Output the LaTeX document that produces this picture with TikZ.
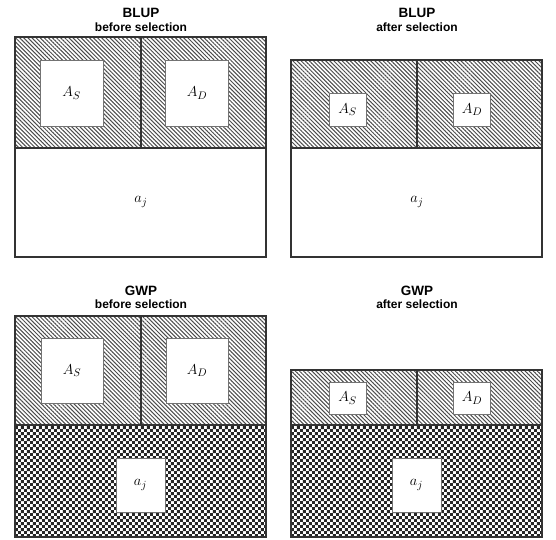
\documentclass[tikz,border=0pt]{standalone}
\usepackage{fontspec}
\setmainfont{Liberation Sans}
\usetikzlibrary{patterns.meta}

% checker tiles for the lower fields
\tikzdeclarepattern{
  name=checks,
  type=uncolored,
  bottom left={(0pt,0pt)},
  top right={(6.4pt,6.4pt)},
  tile size={(6.4pt,6.4pt)},
  code={
    \tikzset{x=1pt,y=1pt}
    \fill (0,0) rectangle (3.2,3.2);
    \fill (3.2,3.2) rectangle (6.4,6.4);
  }
}

\begin{document}
\begin{tikzpicture}[
        x=1pt, y=-1pt,
        frame/.style={draw=black!80, line width=2.6pt},
        divider/.style={draw=black!80, line width=2.2pt},
        hatch/.style={pattern={Lines[angle=-45, distance=2.9pt, line width=1pt]}, pattern color=black!70},
        checks/.style={pattern=checks, pattern color=black!85},
        hole/.style={rectangle, draw=black!55, line width=0.8pt, fill=white, inner sep=0pt, font=\fontsize{15.5}{18}\selectfont},
        label/.style={font=\fontsize{15.5}{18}\selectfont},
        title/.style={font=\bfseries\fontsize{13.5}{15}\selectfont},
        subtitle/.style={font=\bfseries\fontsize{12}{14}\selectfont}
    ]
    \useasboundingbox (0,0) rectangle (556,539);

    % BLUP before selection
    \fill[white] (15,37) rectangle (266,257);
    \path[hatch] (15,37) rectangle (266,148);
    \draw[divider] (15,148) -- (266,148);
    \draw[divider] (141,37) -- (141,148);
    \draw[frame] (15,37) rectangle (266,257);
    \node[hole, minimum width=63pt, minimum height=66pt] (bbs) at (71.5,93) {$A_S$};
    \node[hole, minimum width=63pt, minimum height=66pt] (bbd) at (197,93) {$A_D$};
    \node[label] (bba) at (141,202) {$a_j$};
    \node[title] (bbt) at (141,13) {BLUP};
    \node[subtitle] (bbu) at (141,27) {before selection};

    % BLUP after selection
    \fill[white] (291,60) rectangle (542,257);
    \path[hatch] (291,60) rectangle (542,148);
    \draw[divider] (291,148) -- (542,148);
    \draw[divider] (417,60) -- (417,148);
    \draw[frame] (291,60) rectangle (542,257);
    \node[hole, minimum width=37pt, minimum height=33pt] (bas) at (347.5,109.5) {$A_S$};
    \node[hole, minimum width=37pt, minimum height=33pt] (bad) at (472,109.5) {$A_D$};
    \node[label] (baa) at (417,202) {$a_j$};
    \node[title] (bat) at (417,13) {BLUP};
    \node[subtitle] (bau) at (417,27) {after selection};

    % GWP before selection
    \path[hatch] (15,316) rectangle (266,425);
    \path[checks] (15,425) rectangle (266,537);
    \draw[divider] (15,425) -- (266,425);
    \draw[divider] (141,316) -- (141,425);
    \draw[frame] (15,316) rectangle (266,537);
    \node[hole, minimum width=62pt, minimum height=65pt] (gbs) at (72,370.5) {$A_S$};
    \node[hole, minimum width=62pt, minimum height=65pt] (gbd) at (197,370.5) {$A_D$};
    \node[hole, minimum width=49pt, minimum height=54pt] (gba) at (140.5,485) {$a_j$};
    \node[title] (gbt) at (141,291) {GWP};
    \node[subtitle] (gbu) at (141,304) {before selection};

    % GWP after selection
    \path[hatch] (291,370) rectangle (542,425);
    \path[checks] (291,425) rectangle (542,537);
    \draw[divider] (291,425) -- (542,425);
    \draw[divider] (417,370) -- (417,425);
    \draw[frame] (291,370) rectangle (542,537);
    \node[hole, minimum width=37pt, minimum height=32pt] (gas) at (347.5,398) {$A_S$};
    \node[hole, minimum width=37pt, minimum height=32pt] (gad) at (472,398) {$A_D$};
    \node[hole, minimum width=49pt, minimum height=54pt] (gaa) at (416.5,485) {$a_j$};
    \node[title] (gat) at (417,291) {GWP};
    \node[subtitle] (gau) at (417,304) {after selection};

\end{tikzpicture}
\end{document}
